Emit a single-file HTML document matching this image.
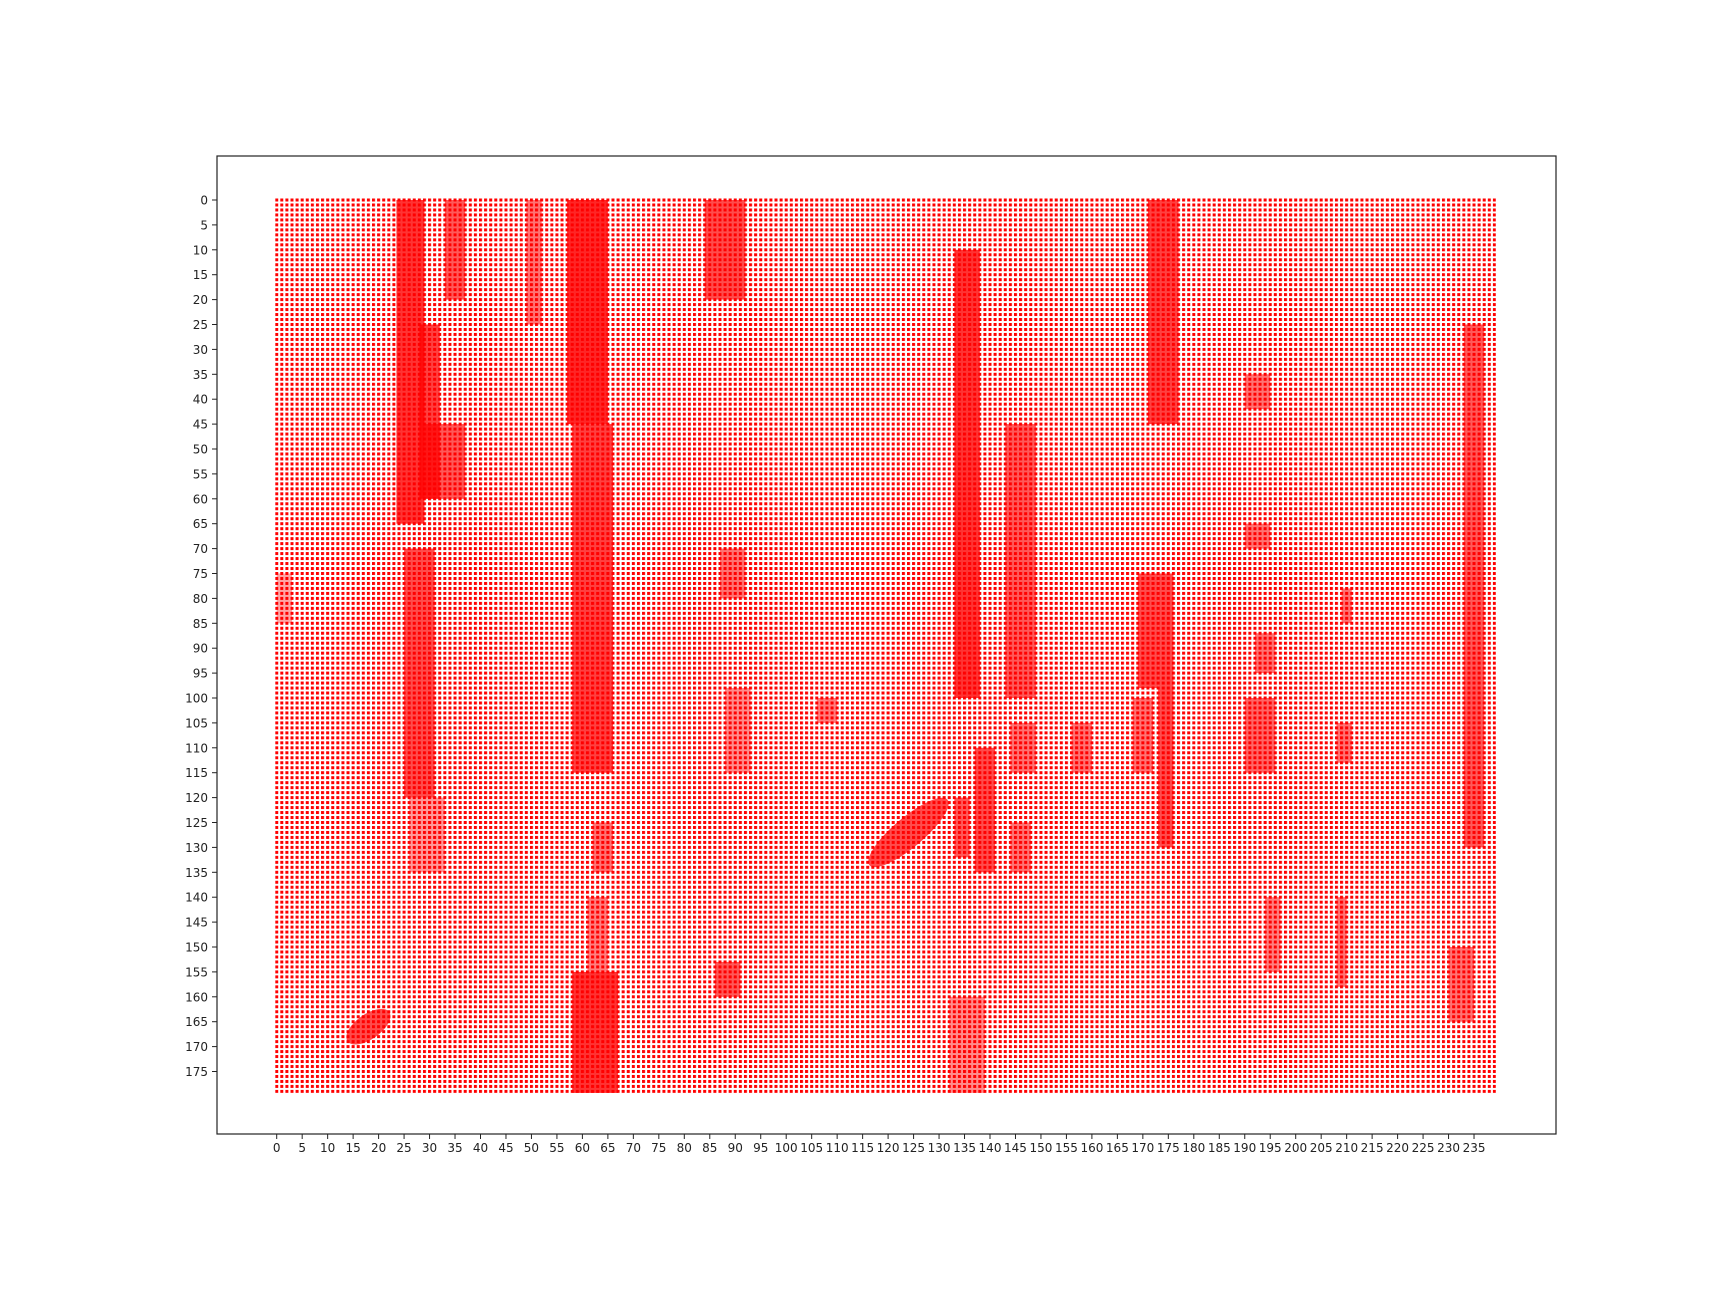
<!DOCTYPE html>
<html><head><meta charset="utf-8">
<style>
html,body{margin:0;padding:0;background:#fff;}
svg{display:block;}
text{font-family:"DejaVu Sans","Liberation Sans",sans-serif;font-size:12px;fill:#222;}
</style></head>
<body>
<svg id="chart" width="1728" height="1296" viewBox="0 0 1728 1296" xmlns="http://www.w3.org/2000/svg">
<defs>
<pattern id="dots" patternUnits="userSpaceOnUse" x="275.2" y="198.5" width="5.095" height="4.98">
<rect x="0" y="0" width="3" height="3" fill="#ff0000"/>
</pattern>
</defs>
<rect x="0" y="0" width="1728" height="1296" fill="#fff"/>
<g id="plot"></g>
<rect x="217" y="156" width="1339" height="978" fill="none" stroke="#222" stroke-width="1.2"/>
<g id="xaxis"></g>
<g id="yaxis"></g>
</svg>
<script>
// grid extent (data units)
const gridX = [0, 239];
const gridY = [0, 179];
// dense arrow bands: [x0, x1, y0, y1] in data units, and density
const bandX0 = [23.5,28,29,33,49,57,58,62,61,58,84,87,88,86,133,137,133,132,143,144,144,156,168,169,173,171,190,190,192,190,194,209,208,208,233,230,106,25,26,0];
const bandX1 = [29,32,37,37,52,65,66,66,65,67,92,92,93,91,138,141,136,139,149,149,148,160,172,173,176,177,195,195,196,196,197,211,211,210,237,235,110,31,33,3];
const bandY0 = [0,25,45,0,0,0,45,125,140,155,0,70,98,153,10,110,120,160,45,105,125,105,100,75,75,0,35,65,87,100,140,78,105,140,25,150,100,70,120,75];
const bandY1 = [65,60,60,20,25,45,115,135,155,180,20,80,115,160,100,135,132,180,100,115,135,115,115,98,130,45,42,70,95,115,155,85,113,158,130,165,105,120,135,85];
const bandDensity = [0.8,0.75,0.65,0.65,0.55,0.85,0.75,0.55,0.5,0.8,0.7,0.55,0.45,0.65,0.8,0.7,0.65,0.45,0.65,0.55,0.55,0.55,0.55,0.7,0.7,0.75,0.55,0.55,0.55,0.6,0.5,0.55,0.55,0.55,0.65,0.55,0.5,0.7,0.4,0.35];
// diagonal blobs: center x, center y, half-length, half-width, angle (deg)
const blobCX = [124,18];
const blobCY = [127,166];
const blobLen = [10,5];
const blobWid = [3,2.5];
const blobAngle = [-40,-35];
// tick labels
const xTicks = []; for (let v=0; v<=235; v+=5) xTicks.push(v);
const yTicks = []; for (let v=0; v<=175; v+=5) yTicks.push(v);

const NS = "http://www.w3.org/2000/svg";
const xS = v => 276.7 + v*5.095;
const yS = v => 200 + v*4.98;
const plot = document.getElementById('plot');

const bg = document.createElementNS(NS,'rect');
bg.setAttribute('x', xS(gridX[0]) - 1.5);
bg.setAttribute('y', yS(gridY[0]) - 1.5);
bg.setAttribute('width', xS(gridX[1]) - xS(gridX[0]) + 3);
bg.setAttribute('height', yS(gridY[1]) - yS(gridY[0]) + 3);
bg.setAttribute('fill', 'url(#dots)');


plot.appendChild(bg);

for (let i=0;i<bandX0.length;i++){
  const r = document.createElementNS(NS,'rect');
  r.setAttribute('x', xS(bandX0[i]));
  r.setAttribute('y', yS(bandY0[i]));
  r.setAttribute('width', xS(bandX1[i]) - xS(bandX0[i]));
  r.setAttribute('height', Math.min(yS(bandY1[i]), yS(gridY[1])+1.5) - yS(bandY0[i]));
  r.setAttribute('fill', '#ff0000');
  r.setAttribute('fill-opacity', bandDensity[i]);
  
  
  plot.appendChild(r);
}
for (let i=0;i<blobCX.length;i++){
  const e = document.createElementNS(NS,'ellipse');
  const cx = xS(blobCX[i]), cy = yS(blobCY[i]);
  e.setAttribute('cx', cx);
  e.setAttribute('cy', cy);
  e.setAttribute('rx', blobLen[i]*5.095);
  e.setAttribute('ry', blobWid[i]*4.98);
  e.setAttribute('transform', 'rotate(' + blobAngle[i] + ' ' + cx + ' ' + cy + ')');
  e.setAttribute('fill', '#ff0000');
  e.setAttribute('fill-opacity', 0.7);
  
  
  plot.appendChild(e);
}

const xa = document.getElementById('xaxis');
xTicks.forEach(v=>{
  const x = xS(v);
  const l = document.createElementNS(NS,'line');
  l.setAttribute('x1',x); l.setAttribute('x2',x);
  l.setAttribute('y1',1134); l.setAttribute('y2',1139);
  l.setAttribute('stroke','#222');
  
  
  xa.appendChild(l);
  const t = document.createElementNS(NS,'text');
  t.setAttribute('x',x); t.setAttribute('y',1152);
  t.setAttribute('text-anchor','middle');
  t.textContent = v;
  
  
  xa.appendChild(t);
});
const ya = document.getElementById('yaxis');
yTicks.forEach(v=>{
  const y = yS(v);
  const l = document.createElementNS(NS,'line');
  l.setAttribute('x1',212); l.setAttribute('x2',217);
  l.setAttribute('y1',y); l.setAttribute('y2',y);
  l.setAttribute('stroke','#222');
  
  
  ya.appendChild(l);
  const t = document.createElementNS(NS,'text');
  t.setAttribute('x',208); t.setAttribute('y',y+4.5);
  t.setAttribute('text-anchor','end');
  t.textContent = v;
  
  
  ya.appendChild(t);
});
</script>
</body></html>
